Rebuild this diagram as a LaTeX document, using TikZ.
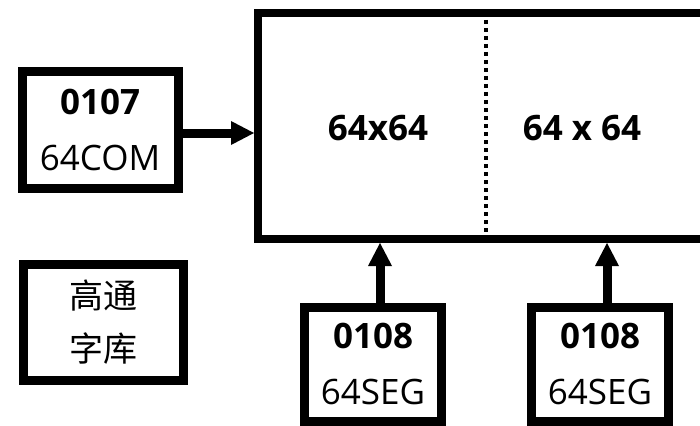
\documentclass[tikz,border=0pt]{standalone}
\usepackage{fontspec}
\setmainfont{Open Sans}
\newfontfamily\cjk{Noto Sans CJK SC}
\usetikzlibrary{arrows.meta}
\usetikzlibrary{calc}
\tikzset{
    chip/.style={draw=black, line width=9pt, minimum width=137pt, minimum height=114pt, inner sep=0pt, align=center, font=\fontsize{35}{56}\selectfont},
    feed/.style={line width=9pt, -{Triangle[length=23pt, width=24pt, line width=0pt]}},
    half/.style={font=\bfseries\fontsize{35}{42}\selectfont},
}

\begin{document}
\begin{tikzpicture}[x=1pt, y=-1pt]
    \useasboundingbox (0,0) rectangle (700,425);
    \clip (0,0) rectangle (700,425);
    % display panel
    \node [draw=black, line width=8pt, minimum width=456pt, minimum height=226pt] (panel) at (486,126) {};
    \draw [line width=4pt, dash pattern=on 4pt off 4pt] ($(panel.north)+(0,11)$) -- ($(panel.south)+(0,-11)$);
    \node [half] (left) at (378,128) {64x64};
    \node [half] (right) at (582,128) {64 x 64};
    % drivers
    \node [chip, minimum width=156pt, minimum height=116pt] (com) at (100,130) {\textbf{0107}\\64COM};
    \node [chip, minimum width=160pt, minimum height=116pt, font=\cjk\fontsize{34}{53}\selectfont] (glyphs) at (103,322) {高通\\字库};
    \node [chip] (segA) at (373,364) {\textbf{0108}\\64SEG};
    \node [chip] (segB) at (600,364) {\textbf{0108}\\64SEG};
    % links
    \draw [feed] ([yshift=-3pt]com.east) -- ([yshift=-3pt]com.east -| panel.west);
    \draw [feed] ([xshift=7pt]segA.north) -- ([xshift=7pt]segA.north |- panel.south);
    \draw [feed] ([xshift=7pt]segB.north) -- ([xshift=7pt]segB.north |- panel.south);
\end{tikzpicture}
\end{document}
